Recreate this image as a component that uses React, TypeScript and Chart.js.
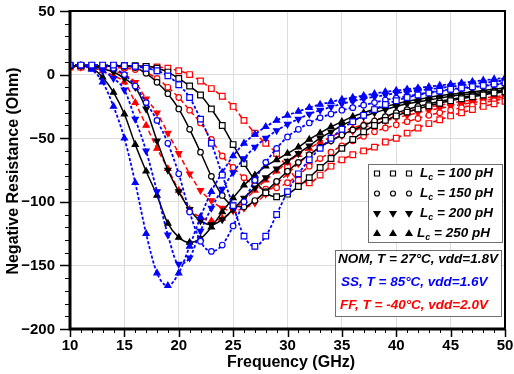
import React, { useEffect, useRef } from 'react';
import { Chart, registerables } from 'chart.js';

Chart.register(...registerables);

const FONT = '"Liberation Sans", Arial, Helvetica, sans-serif';

// Frequency sweep (GHz)
const freqGHz = [10, 11, 12, 13, 14, 15, 16, 17, 18, 19, 20, 21, 22, 23, 24, 25, 26, 27, 28, 29, 30,
  31, 32, 33, 34, 35, 36, 37, 38, 39, 40, 41, 42, 43, 44, 45, 46, 47, 48, 49, 50];

// Tick values
const xTicks = [10, 15, 20, 25, 30, 35, 40, 45, 50];
const yTicks = [-200, -150, -100, -50, 0, 50];
const xMinorStep = 1;
const yMinorStep = 10;

// SS corner (T = 85°C, vdd = 1.6 V)
const ss100 = [7.5, 7.5, 7.5, 7.5, 7.5, 7, 6.5, 5, 3, -1, -8, -18, -35, -54, -79, -103, -127, -135, -127, -110, -92,
  -78, -67, -58, -50, -43, -37, -32, -27.5, -23.5, -20.5, -18, -16, -14.5, -13, -11.5, -10.5, -9.5, -8.5, -7.5, -6.5];
const ss150 = [7.5, 7.5, 7.5, 7, 5, 0, -9, -22, -36, -54, -78, -108, -131, -139, -134, -119, -100, -83, -69, -58, -49,
  -43, -38, -34, -31, -28, -26, -24, -22, -20, -18.5, -17, -15.5, -14, -13, -12, -11, -10, -9, -8, -7];
const ss200 = [7.5, 7.5, 6, 3, -3, -12, -35, -60, -92, -126, -149, -144, -123, -105, -90, -77, -66, -57, -50, -44, -39,
  -35, -31, -28, -25.5, -23, -21, -19, -17.5, -16, -14.5, -13.5, -12.5, -11.5, -10.5, -9.5, -8.5, -7.5, -6.5, -5.5, -4.5];
const ss250 = [7.5, 7, 4, -6, -25, -50, -85, -125, -156, -166, -156, -135, -112, -92, -77, -64, -54, -47, -41, -36, -32,
  -29, -26, -23.5, -21.5, -19.5, -18, -16.5, -15, -13.5, -12.5, -11.5, -10.5, -9.5, -8.5, -7.5, -6.5, -5.5, -4.5, -3.5, -2.5];

// NOM corner (T = 27°C, vdd = 1.8 V)
const nom100 = [7, 7, 7, 7, 7, 7, 7, 6.5, 5, 2, -3, -9, -16, -27, -40, -55, -70, -83, -93, -96, -94,
  -88, -81, -73, -66, -58, -51, -45, -40, -36, -32.5, -29.5, -27, -24.5, -22.5, -20.5, -19, -17.5, -16, -14.5, -13.5];
const nom150 = [7, 7, 7, 7, 6.5, 6.5, 5.5, 1, -6, -15, -27, -43, -61, -80, -95, -103, -104, -99, -92, -84, -76,
  -69, -63, -57, -52, -47.5, -43.5, -40, -36.5, -33, -30, -27.5, -25, -23, -21, -19.5, -18, -16.5, -15, -13.5, -12.5];
const nom200 = [7, 7, 6.5, 4.5, 2, -3, -10, -27, -52, -75, -92, -106, -115, -118, -114, -106, -97, -89, -81, -74, -68,
  -62, -56, -50, -45, -40, -36, -33, -30, -27.5, -25, -23, -21.5, -20, -18.5, -17, -16, -15, -14, -13, -12];
const nom250 = [7, 7, 5, -2, -14, -31, -55, -76, -95, -117, -128, -132, -129, -120, -108, -97, -87, -79, -72, -67, -62,
  -57, -51, -46, -41, -37, -33, -30, -27, -25, -23, -21, -19.5, -18, -16.5, -15.5, -14.5, -13.5, -12.5, -11.5, -10.5];

// FF corner (T = -40°C, vdd = 2.0 V)
const ff100 = [6, 6, 6, 6, 6, 6, 6.5, 6.5, 6, 5, 3, 0, -5, -11, -17, -25, -36, -46, -54, -62, -73,
  -83, -85, -79, -72, -67, -63, -60, -57, -53, -50, -46, -42, -38.5, -35.5, -32.5, -30, -27.5, -25, -23, -21];
const ff150 = [6, 6, 6, 6, 5.5, 5, 4, 1.5, -3, -10, -18, -28, -38, -51, -64, -73, -81, -87, -90, -89, -85,
  -79, -72, -66, -61, -56, -52, -48.5, -45, -42, -39.5, -37, -34.5, -32, -30, -28, -26, -24, -22, -20.5, -19];
const ff200 = [6, 6, 6, 5, 3, 0, -6, -19, -30, -46, -62, -78, -91, -99, -105, -107, -105, -101, -94, -86, -78,
  -70, -63, -57, -52, -48, -44.5, -41.5, -39, -36.5, -34, -32, -30, -28, -26.5, -25, -23.5, -22, -20.5, -19, -17.5];
const ff250 = [6, 6, 5, 3, -1, -6, -22, -40, -58, -74, -91, -106, -112, -115, -113, -107, -99, -91, -83, -76, -69,
  -63, -58, -53, -49, -45, -42, -39, -36, -33.5, -31, -29, -27, -25.5, -24, -22.5, -21, -20, -18.5, -17.5, -16.5];

// Legend texts
const inductanceLabels = ['100', '150', '200', '250'];
const cornerLabels = ['NOM, T = 27°C, vdd=1.8V', 'SS, T = 85°C, vdd=1.6V', 'FF, T = -40°C, vdd=2.0V'];

const BLACK = '#000000';
const BLUE = '#0000ff';
const RED = '#ff0000';
const cornerColors = [BLACK, BLUE, RED];

type MarkerKind = 'square' | 'circle' | 'down' | 'up';
const markerKinds: MarkerKind[] = ['square', 'circle', 'down', 'up'];

function markerOptions(kind: MarkerKind, color: string) {
  switch (kind) {
    case 'square':
      return { pointStyle: 'rect', pointRotation: 0, pointRadius: 4, pointBackgroundColor: '#ffffff' };
    case 'circle':
      return { pointStyle: 'circle', pointRotation: 0, pointRadius: 2.8, pointBackgroundColor: '#ffffff' };
    case 'down':
      return { pointStyle: 'triangle', pointRotation: 180, pointRadius: 3.5, pointBackgroundColor: color };
    default:
      return { pointStyle: 'triangle', pointRotation: 0, pointRadius: 3.5, pointBackgroundColor: color };
  }
}

function makeDataset(values: number[], color: string, dash: number[], width: number, kind: MarkerKind) {
  return {
    data: freqGHz.map((f, i) => ({ x: f, y: values[i] })),
    borderColor: color,
    borderWidth: width,
    borderDash: dash,
    cubicInterpolationMode: 'monotone',
    fill: false,
    pointBorderColor: color,
    pointBorderWidth: 1.2,
    ...markerOptions(kind, color),
  };
}

function drawLegendMarker(ctx: CanvasRenderingContext2D, kind: MarkerKind, x: number, y: number) {
  ctx.save();
  ctx.strokeStyle = BLACK;
  ctx.fillStyle = BLACK;
  ctx.lineWidth = 1.2;
  ctx.beginPath();
  if (kind === 'square') {
    ctx.rect(x - 2.5, y - 2.5, 5, 5);
    ctx.fillStyle = '#fff';
    ctx.fill();
    ctx.stroke();
  } else if (kind === 'circle') {
    ctx.arc(x, y, 2.5, 0, Math.PI * 2);
    ctx.fillStyle = '#fff';
    ctx.fill();
    ctx.stroke();
  } else if (kind === 'down') {
    ctx.moveTo(x - 3, y - 2);
    ctx.lineTo(x + 3, y - 2);
    ctx.lineTo(x, y + 3);
    ctx.closePath();
    ctx.fill();
    ctx.stroke();
  } else {
    ctx.moveTo(x - 3, y + 2);
    ctx.lineTo(x + 3, y + 2);
    ctx.lineTo(x, y - 3);
    ctx.closePath();
    ctx.fill();
    ctx.stroke();
  }
  ctx.restore();
}

const fmtTick = (v: number) => (v < 0 ? '\u2212' + String(Math.abs(v)) : String(v));

const decorPlugin = {
  id: 'decor',
  afterDraw(chart: any) {
    const { ctx, chartArea: a, scales } = chart;
    const xs = scales.x;
    const ys = scales.y;
    ctx.save();
    ctx.strokeStyle = BLACK;
    ctx.lineWidth = 1;
    // x ticks
    for (let f = xs.min; f <= xs.max + 1e-6; f += xMinorStep) {
      const px = Math.round(xs.getPixelForValue(f)) + 0.5;
      const major = xTicks.includes(f);
      ctx.beginPath();
      ctx.moveTo(px, a.bottom);
      ctx.lineTo(px, a.bottom + (major ? 8 : 4));
      ctx.lineWidth = major ? 1.5 : 1;
      ctx.stroke();
    }
    // y ticks
    for (let v = ys.min; v <= ys.max + 1e-6; v += yMinorStep) {
      const py = Math.round(ys.getPixelForValue(v)) + 0.5;
      const major = yTicks.includes(v);
      ctx.beginPath();
      ctx.moveTo(a.left, py);
      ctx.lineTo(a.left - (major ? 10 : 5), py);
      ctx.lineWidth = major ? 1.5 : 1;
      ctx.stroke();
    }
    // frame
    ctx.lineWidth = 2;
    ctx.strokeRect(a.left, a.top, a.right - a.left, a.bottom - a.top);
    ctx.lineWidth = 3;
    ctx.beginPath();
    ctx.moveTo(a.left, a.top - 1);
    ctx.lineTo(a.left, a.bottom);
    ctx.lineTo(a.right + 1, a.bottom);
    ctx.stroke();

    // tick labels
    ctx.fillStyle = BLACK;
    ctx.font = `bold 15px ${FONT}`;
    ctx.textAlign = 'center';
    ctx.textBaseline = 'middle';
    xTicks.forEach((v) => ctx.fillText(fmtTick(v), xs.getPixelForValue(v), a.bottom + 17));
    ctx.textAlign = 'right';
    yTicks.forEach((v) => ctx.fillText(fmtTick(v), a.left - 15, ys.getPixelForValue(v) + 0.5));

    // axis titles
    ctx.font = `bold 16px ${FONT}`;
    ctx.textAlign = 'center';
    ctx.textBaseline = 'middle';
    ctx.fillText('Frequency (GHz)', 291, 363);
    ctx.save();
    ctx.translate(14, 171);
    ctx.rotate(-Math.PI / 2);
    ctx.fillText('Negative Resistance (Ohm)', 0, 0);
    ctx.restore();

    // legend 1: inductance / markers
    const b1 = { l: 368, t: 164, r: 502, b: 242 };
    ctx.fillStyle = '#ffffff';
    ctx.fillRect(b1.l, b1.t, b1.r - b1.l, b1.b - b1.t);
    ctx.strokeStyle = '#707070';
    ctx.lineWidth = 1;
    ctx.strokeRect(b1.l + 0.5, b1.t + 0.5, b1.r - b1.l, b1.b - b1.t);
    const rowY = [173.5, 193.5, 213.5, 233.5];
    inductanceLabels.forEach((lab, i) => {
      const y = rowY[i];
      [377, 393, 409].forEach((mx) => drawLegendMarker(ctx, markerKinds[i], mx, y));
      ctx.fillStyle = BLACK;
      ctx.textAlign = 'left';
      ctx.textBaseline = 'middle';
      let x = i === 3 ? 417 : 420;
      ctx.font = `italic bold 13.5px ${FONT}`;
      ctx.fillText('L', x, y);
      x += ctx.measureText('L').width;
      ctx.font = `italic bold 9px ${FONT}`;
      ctx.fillText('c', x, y + 4);
      x += ctx.measureText('c').width;
      ctx.font = `italic bold 13.5px ${FONT}`;
      ctx.fillText(` = ${lab} pH`, x, y);
    });

    // legend 2: corners
    const b2 = { l: 335, t: 250, r: 501, b: 316 };
    ctx.fillStyle = '#ffffff';
    ctx.fillRect(b2.l, b2.t, b2.r - b2.l, b2.b - b2.t);
    ctx.strokeStyle = '#707070';
    ctx.strokeRect(b2.l + 0.5, b2.t + 0.5, b2.r - b2.l, b2.b - b2.t);
    const rowY2 = [259, 282, 305];
    const rowX2 = [338, 341, 340];
    ctx.font = `italic bold 13.5px ${FONT}`;
    ctx.textAlign = 'left';
    cornerLabels.forEach((lab, i) => {
      ctx.fillStyle = cornerColors[i];
      ctx.fillText(lab, rowX2[i], rowY2[i]);
    });
    ctx.restore();
  },
};

export default function App() {
  const ref = useRef<HTMLCanvasElement | null>(null);

  useEffect(() => {
    if (!ref.current) return;
    const ssDash = [3, 2];
    const ffDash = [5, 3];
    const datasets = [
      makeDataset(ss100, BLUE, ssDash, 1.8, 'square'),
      makeDataset(ss150, BLUE, ssDash, 1.8, 'circle'),
      makeDataset(ss200, BLUE, ssDash, 1.8, 'down'),
      makeDataset(ss250, BLUE, ssDash, 1.8, 'up'),
      makeDataset(nom100, BLACK, [], 1.5, 'square'),
      makeDataset(nom150, BLACK, [], 1.5, 'circle'),
      makeDataset(nom200, BLACK, [], 1.5, 'down'),
      makeDataset(nom250, BLACK, [], 1.5, 'up'),
      makeDataset(ff100, RED, ffDash, 1.5, 'square'),
      makeDataset(ff150, RED, ffDash, 1.5, 'circle'),
      makeDataset(ff200, RED, ffDash, 1.5, 'down'),
      makeDataset(ff250, RED, ffDash, 1.5, 'up'),
    ];
    const chart = new Chart(ref.current, {
      type: 'line',
      data: { datasets: datasets as any },
      options: {
        responsive: false,
        animation: false,
        events: [],
        layout: { padding: { top: 11, right: 9, left: 0, bottom: 0 } },
        plugins: { legend: { display: false }, tooltip: { enabled: false } },
        scales: {
          x: {
            type: 'linear',
            min: 10,
            max: 50,
            afterBuildTicks: (s: any) => { s.ticks = xTicks.map((v) => ({ value: v })); },
            afterFit: (s: any) => { s.height = 45; s.paddingLeft = 0; s.paddingRight = 0; },
            grid: { color: '#dddddd', lineWidth: 1, drawTicks: false },
            border: { display: false },
            ticks: { display: false },
          },
          y: {
            type: 'linear',
            min: -200,
            max: 50,
            afterBuildTicks: (s: any) => { s.ticks = yTicks.map((v) => ({ value: v })); },
            afterFit: (s: any) => { s.width = 70; s.paddingTop = 0; s.paddingBottom = 0; },
            grid: { color: '#dddddd', lineWidth: 1, drawTicks: false },
            border: { display: false },
            ticks: { display: false },
          },
        },
      },
      plugins: [decorPlugin],
    });
    return () => chart.destroy();
  }, []);

  return (
    <div style={{ position: 'absolute', left: 0, top: 0, width: 514, height: 374, background: '#fff' }}>
      <canvas ref={ref} width={514} height={374} style={{ display: 'block' }} />
    </div>
  );
}
